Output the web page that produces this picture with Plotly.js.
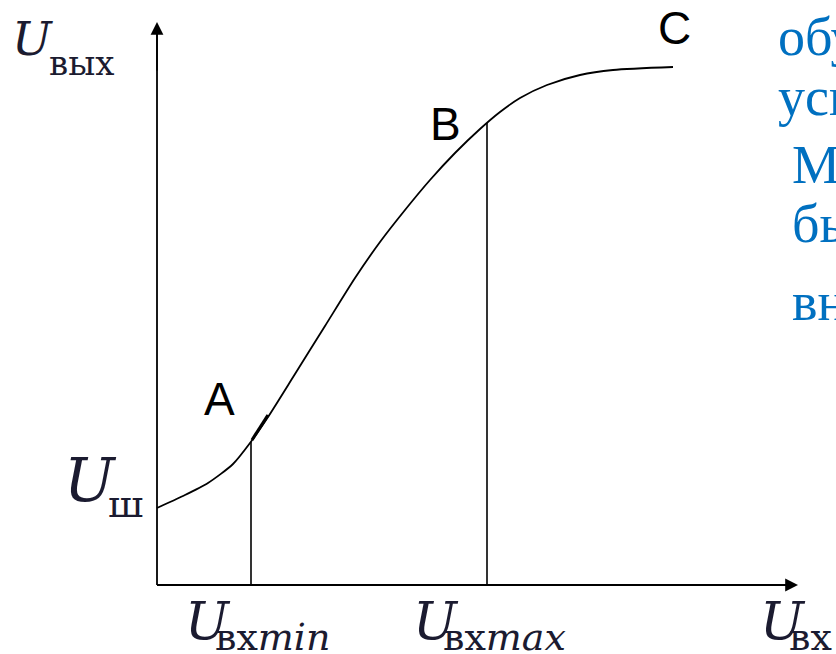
<!DOCTYPE html>
<html>
<head>
<meta charset="utf-8">
<script src="https://cdn.plot.ly/plotly-3.0.1.min.js"></script>
<style>
  html, body { margin: 0; padding: 0; background: #ffffff; }
  #chart { width: 836px; height: 654px; }
</style>
</head>
<body>
<div id="chart"></div>
<script>
// Amplitude characteristic of an amplifier: U_вых as a function of U_вх
const uIn  = [0, 0.52, 1.02, 1.52, 1.86, 2.22, 2.76, 3.36, 3.96, 4.46, 4.96, 5.46, 5.96, 6.46, 6.86, 7.26, 7.80, 8.46, 9.12, 10.32];
const uOut = [1.54, 1.78, 2.04, 2.42, 2.84, 3.36, 4.22, 5.18, 6.14, 6.86, 7.50, 8.10, 8.64, 9.12, 9.46, 9.74, 10.00, 10.20, 10.30, 10.36];

// Working range limits (points A and B on the curve)
const uInMin = 1.88, uOutA = 2.86;
const uInMax = 6.60, uOutB = 9.24;

// Short tangent stroke at point A
const tangentIn  = [1.90, 2.22];
const tangentOut = [2.90, 3.40];

// Axis extents (arrow tips)
const xAxisEnd = 12.82;
const yAxisEnd = 11.26;

// Text pieces
const pointLabels = ['A', 'B', 'C'];
const sideText = ['обусловлен', 'усилителя', 'Может', 'быть', 'внешних'];

const W = 836, H = 654;
const px = v => v / W;          // pixel column -> paper fraction
const py = v => 1 - v / H;      // pixel row -> paper fraction

const black = '#000000';
const ink = '#1b1b30';

const traces = [
  { x: uIn, y: uOut, mode: 'lines', line: { color: black, width: 1.8, shape: 'spline', smoothing: 0.7 }, hoverinfo: 'skip' },
  { x: [uInMin, uInMin], y: [0, uOutA], mode: 'lines', line: { color: black, width: 1.6 }, hoverinfo: 'skip' },
  { x: [uInMax, uInMax], y: [0, uOutB], mode: 'lines', line: { color: black, width: 1.6 }, hoverinfo: 'skip' },
  { x: tangentIn, y: tangentOut, mode: 'lines', line: { color: black, width: 3.2 }, hoverinfo: 'skip' },
  // coordinate axes
  { x: [0, 0], y: [0, yAxisEnd - 0.15], mode: 'lines', line: { color: black, width: 1.8 }, hoverinfo: 'skip' },
  { x: [0, xAxisEnd - 0.15], y: [0, 0], mode: 'lines', line: { color: black, width: 1.8 }, hoverinfo: 'skip' }
];

function txt(text, x, y, size, family, color, xanchor) {
  return {
    text: text, xref: 'paper', yref: 'paper', x: px(x), y: py(y),
    xanchor: xanchor || 'left', yanchor: 'middle', showarrow: false,
    font: { family: family, size: size, color: color }
  };
}

const serif = 'DejaVu Serif';
const annotations = [
  // arrow heads of the axes
  { x: 0, y: yAxisEnd, ax: 0, ay: yAxisEnd - 1, xref: 'x', yref: 'y', axref: 'x', ayref: 'y',
    showarrow: true, arrowhead: 2, arrowsize: 1.6, arrowwidth: 1.6, arrowcolor: black, text: '' },
  { x: xAxisEnd, y: 0, ax: xAxisEnd - 1, ay: 0, xref: 'x', yref: 'y', axref: 'x', ayref: 'y',
    showarrow: true, arrowhead: 2, arrowsize: 1.6, arrowwidth: 1.6, arrowcolor: black, text: '' },

  // U_вых
  txt('<i>U</i>', 10, 38, 47, serif, ink),
  txt('вых', 47, 63, 34, serif, ink),
  // U_ш
  txt('<i>U</i>', 62, 480, 60, serif, ink),
  txt('ш', 106, 504, 38, serif, ink),
  // U_вхmin
  txt('<i>U</i>', 183, 621, 52, serif, ink),
  txt('вх<i>min</i>', 213, 637, 38, serif, ink),
  // U_вхmax
  txt('<i>U</i>', 411, 621, 52, serif, ink),
  txt('вх<i>max</i>', 441, 637, 38, serif, ink),
  // U_вх
  txt('<i>U</i>', 758, 621, 52, serif, ink),
  txt('вх', 787, 637, 38, serif, ink),

  // curve points
  txt(pointLabels[0], 219, 399, 46, 'Liberation Sans', black, 'center'),
  txt(pointLabels[1], 446, 124, 46, 'Liberation Sans', black, 'center'),
  txt(pointLabels[2], 674, 28, 46, 'Liberation Sans', black, 'center'),

  // side text
  txt(sideText[0], 776, 37, 54, 'Liberation Serif', '#0070C0'),
  txt(sideText[1], 776, 97, 54, 'Liberation Serif', '#0070C0'),
  txt(sideText[2], 790, 165, 54, 'Liberation Serif', '#0070C0'),
  txt(sideText[3], 790, 224, 54, 'Liberation Serif', '#0070C0'),
  txt(sideText[4], 790, 302, 54, 'Liberation Serif', '#0070C0')
];

const layout = {
  width: W, height: H,
  margin: { l: 0, r: 0, t: 0, b: 0 },
  paper_bgcolor: '#ffffff', plot_bgcolor: '#ffffff',
  showlegend: false,
  xaxis: { range: [-157 / 50, (W - 157) / 50], visible: false, fixedrange: true },
  yaxis: { range: [(585 - H) / 50, 585 / 50], visible: false, fixedrange: true },
  annotations: annotations
};

Plotly.newPlot('chart', traces, layout, { staticPlot: true, displayModeBar: false });
</script>
</body>
</html>
